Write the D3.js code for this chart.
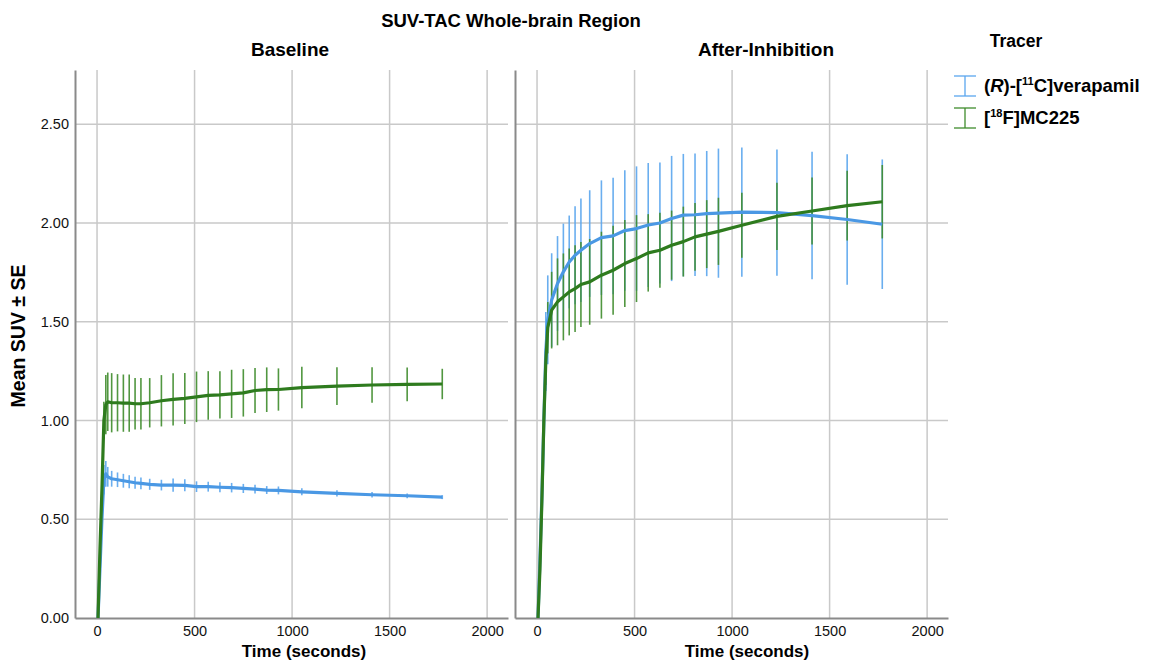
<!DOCTYPE html>
<html><head><meta charset="utf-8">
<script src="https://cdn.jsdelivr.net/npm/d3@7"></script>
<style>body{margin:0;background:#fff;}svg{display:block;font-family:"Liberation Sans",Arial,sans-serif;}</style>
</head><body><div id="chart"></div>
<script>
// Frame mid-times (seconds)
const times = [5,15,25,35,45,55,75,105,135,165,195,225,270,330,390,450,510,570,630,690,750,810,870,930,1050,1230,1410,1590,1770];
const panels = ["Baseline","After-Inhibition"];
const tracers = ["(R)-[11C]verapamil","[18F]MC225"];
const xTicks = [0,500,1000,1500,2000];
const yTicks = [0,0.5,1.0,1.5,2.0,2.5];

// Baseline
const baseVerMean = [0.0,0.25,0.5,0.7,0.73,0.715,0.705,0.70,0.695,0.69,0.685,0.682,0.677,0.673,0.673,0.672,0.665,0.665,0.662,0.66,0.656,0.653,0.648,0.646,0.639,0.631,0.624,0.619,0.612];
const baseVerSE   = [0,0.02,0.04,0.075,0.065,0.05,0.04,0.037,0.035,0.033,0.03,0.03,0.028,0.027,0.034,0.03,0.027,0.025,0.025,0.024,0.023,0.022,0.02,0.02,0.018,0.016,0.014,0.012,0.01];
const baseMcMean  = [0.0,0.35,0.65,1.0,1.08,1.095,1.09,1.09,1.088,1.088,1.085,1.085,1.09,1.10,1.107,1.112,1.12,1.127,1.13,1.135,1.14,1.152,1.156,1.157,1.167,1.174,1.18,1.183,1.185];
const baseMcSE    = [0,0.02,0.05,0.095,0.15,0.148,0.15,0.145,0.145,0.145,0.13,0.13,0.125,0.13,0.132,0.129,0.128,0.123,0.12,0.122,0.12,0.114,0.113,0.107,0.105,0.096,0.09,0.086,0.077];
// After inhibition
const inhVerMean = [0.0,0.3,0.62,1.0,1.35,1.51,1.61,1.694,1.753,1.803,1.837,1.862,1.896,1.926,1.935,1.962,1.972,1.99,2.0,2.023,2.04,2.042,2.048,2.05,2.055,2.053,2.038,2.018,1.994];
const inhVerSE   = [0,0.02,0.05,0.1,0.2,0.225,0.237,0.24,0.244,0.235,0.248,0.262,0.27,0.29,0.295,0.305,0.315,0.314,0.306,0.317,0.31,0.31,0.317,0.327,0.327,0.32,0.323,0.33,0.328];
const inhMcMean  = [0.0,0.25,0.6,1.0,1.3,1.47,1.559,1.601,1.626,1.651,1.668,1.689,1.702,1.736,1.761,1.795,1.82,1.849,1.862,1.888,1.906,1.93,1.944,1.958,1.989,2.034,2.061,2.088,2.108];
const inhMcSE    = [0,0.02,0.05,0.1,0.12,0.13,0.194,0.22,0.22,0.22,0.22,0.215,0.217,0.22,0.225,0.22,0.22,0.196,0.19,0.175,0.177,0.172,0.172,0.17,0.165,0.17,0.17,0.177,0.186];

const lineColors = ["#4a98e4","#2e7b1e"];
const barColors = ["#5aa6ee","#3f8c2c"];

const W = 1149, H = 662;
const svg = d3.select("#chart").append("svg").attr("width",W).attr("height",H);

const panelX = [75,515], panelW = 433, plotTop = 70, plotBottom = 618;
const titleX = [290,766], xLabelX = [304,747];
const y = d3.scaleLinear().domain([0,2.775]).range([plotBottom,plotTop]);

const panelData = [
  [{mean:baseVerMean,se:baseVerSE},{mean:baseMcMean,se:baseMcSE}],
  [{mean:inhVerMean,se:inhVerSE},{mean:inhMcMean,se:inhMcSE}]
];

svg.append("text").attr("x",511).attr("y",27).attr("text-anchor","middle")
  .attr("font-size",18.5).attr("font-weight","bold").text("SUV-TAC Whole-brain Region");

panels.forEach((p,pi)=>{
  const x = d3.scaleLinear().domain([-113,2107]).range([panelX[pi],panelX[pi]+panelW]);
  const g = svg.append("g");
  // gridlines
  g.selectAll(".vg").data(xTicks).join("line")
    .attr("x1",d=>x(d)).attr("x2",d=>x(d)).attr("y1",plotTop).attr("y2",plotBottom)
    .attr("stroke","#c9c9c9").attr("stroke-width",1.5);
  g.selectAll(".hg").data(yTicks.slice(1)).join("line")
    .attr("x1",panelX[pi]).attr("x2",panelX[pi]+panelW).attr("y1",d=>y(d)).attr("y2",d=>y(d))
    .attr("stroke","#c9c9c9").attr("stroke-width",1.5);
  // axes
  const xa = g.append("g").attr("transform",`translate(0,${plotBottom})`)
    .call(d3.axisBottom(x).tickValues(xTicks).tickSize(0).tickPadding(8).tickFormat(d3.format("d")));
  xa.select(".domain").attr("stroke","#8a8a8a").attr("stroke-width",2);
  xa.selectAll("text").attr("font-size",14.5).attr("fill","#111").attr("font-family","Liberation Sans, Arial, sans-serif");
  const ya = g.append("g").attr("transform",`translate(${panelX[pi]},0)`)
    .call(d3.axisLeft(y).tickValues(yTicks).tickSize(0).tickPadding(6).tickFormat(d3.format(".2f")));
  ya.select(".domain").attr("stroke","#8a8a8a").attr("stroke-width",2);
  ya.selectAll("text").attr("font-size",14.5).attr("fill","#111").attr("font-family","Liberation Sans, Arial, sans-serif");
  if(pi===1) ya.selectAll("text").remove();

  g.append("text").attr("x",titleX[pi]).attr("y",56).attr("text-anchor","middle")
    .attr("font-size",19).attr("font-weight","bold").text(p);
  g.append("text").attr("x",xLabelX[pi]).attr("y",657).attr("text-anchor","middle")
    .attr("font-size",17).attr("font-weight","bold").text("Time (seconds)");

  // error bars
  panelData[pi].forEach((s,si)=>{
    g.selectAll(".eb"+si).data(times.map((t,i)=>({t,m:s.mean[i],e:s.se[i]}))).join("line")
      .attr("x1",d=>x(d.t)).attr("x2",d=>x(d.t))
      .attr("y1",d=>y(d.m+d.e)).attr("y2",d=>y(d.m-d.e))
      .attr("stroke",barColors[si]).attr("stroke-width",1.6).attr("opacity",0.9);
  });
  // lines
  panelData[pi].forEach((s,si)=>{
    const line = d3.line().x((d,i)=>x(times[i])).y(d=>y(d));
    g.append("path").datum(s.mean).attr("d",line).attr("fill","none")
      .attr("stroke",lineColors[si]).attr("stroke-width",3.2).attr("stroke-linejoin","round");
  });
});

// y label
svg.append("text").attr("transform","translate(25,336) rotate(-90)").attr("text-anchor","middle")
  .attr("font-size",19.5).attr("font-weight","bold").text("Mean SUV ± SE");

// legend
const lg = svg.append("g");
lg.append("text").attr("x",1016).attr("y",47).attr("text-anchor","middle")
  .attr("font-size",17.5).attr("font-weight","bold").text("Tracer");
const legY = [86,118];
tracers.forEach((t,i)=>{
  const cx = 965, yy = legY[i];
  lg.append("line").attr("x1",cx).attr("x2",cx).attr("y1",yy-10).attr("y2",yy+10).attr("stroke",barColors[i]).attr("stroke-width",1.3);
  lg.append("line").attr("x1",cx-11).attr("x2",cx+11).attr("y1",yy-10).attr("y2",yy-10).attr("stroke",barColors[i]).attr("stroke-width",1.3);
  lg.append("line").attr("x1",cx-11).attr("x2",cx+11).attr("y1",yy+10).attr("y2",yy+10).attr("stroke",barColors[i]).attr("stroke-width",1.3);
  const tx = lg.append("text").attr("x",984).attr("y",yy+6).attr("font-size",18.5).attr("font-weight","bold");
  if(i===0){
    tx.append("tspan").text("(");
    tx.append("tspan").attr("font-style","italic").text("R");
    tx.append("tspan").text(")-[");
    tx.append("tspan").attr("font-size",11).attr("dy",-7).text("11");
    tx.append("tspan").attr("dy",7).text("C]verapamil");
  } else {
    tx.append("tspan").text("[");
    tx.append("tspan").attr("font-size",11).attr("dy",-7).text("18");
    tx.append("tspan").attr("dy",7).text("F]MC225");
  }
});
</script></body></html>
